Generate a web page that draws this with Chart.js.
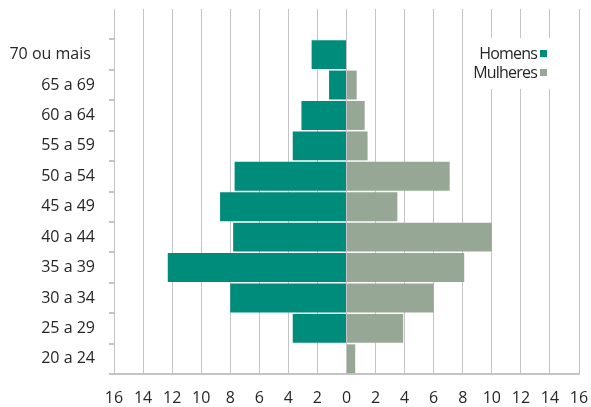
<!DOCTYPE html>
<html>
<head>
<meta charset="utf-8">
<script src="https://cdn.jsdelivr.net/npm/chart.js@4"></script>
<style>
  html, body { margin: 0; padding: 0; background: #fff; }
  #wrap { position: relative; width: 591px; height: 407px; }
  #legend {
    position: absolute; left: 476px; top: 38px; width: 78px; height: 51px;
    background: #fff; font-family: "Open Sans", sans-serif; font-size: 16px;
    line-height: 16px; color: #262626; letter-spacing: -0.8px;
  }
  #legend div { position: absolute; right: 7px; white-space: nowrap; }
  #legend span { display: inline-block; width: 7px; height: 7px; margin: 0 0 2px 3px; }
</style>
</head>
<body>
<div id="wrap">
  <canvas id="chart" width="591" height="407"></canvas>
  <div id="legend">
    <div style="top:7px">Homens<span style="background:#008c7a"></span></div>
    <div style="top:26px">Mulheres<span style="background:#97a795"></span></div>
  </div>
</div>
<script>
// Age groups, top to bottom (first entry is the empty row above the pyramid)
const ageGroups = ['', '70 ou mais ', '65 a 69', '60 a 64', '55 a 59', '50 a 54', '45 a 49',
    '40 a 44', '35 a 39', '30 a 34', '25 a 29', '20 a 24'];

// percentages, men drawn to the left
const homens = [null, 2.4, 1.2, 3.1, 3.7, 7.7, 8.7, 7.8, 12.3, 8.0, 3.7, 0];
const mulheres = [null, 0, 0.7, 1.25, 1.45, 7.1, 3.5, 10.0, 8.1, 6.0, 3.9, 0.6];

const ctx = document.getElementById('chart').getContext('2d');
const font = { family: '"Open Sans", sans-serif', size: 16 };

new Chart(ctx, {
    type: 'bar',
    data: {
        labels: ageGroups,
        datasets: [{
            label: 'Homens',
            data: homens.map(v => v === null ? null : -v),
            backgroundColor: '#008c7a',
            barPercentage: 0.95,
            categoryPercentage: 1
        }, {
            label: 'Mulheres',
            data: mulheres,
            backgroundColor: '#97a795',
            barPercentage: 0.95,
            categoryPercentage: 1
        }]
    },
    options: {
        indexAxis: 'y',
        responsive: false,
        animation: false,
        layout: { padding: { top: 9, right: 12, left: 0, bottom: 0 } },
        plugins: { legend: { display: false }, tooltip: { enabled: false } },
        scales: {
            x: {
                stacked: true,
                min: -16, max: 16,
                ticks: {
                    stepSize: 2,
                    color: '#262626',
                    font: font,
                    padding: 15,
                    callback: v => Math.abs(v)
                },
                grid: { color: '#c4c4c8', drawTicks: false },
                border: { color: '#c4c4c8', width: 2 },
                afterFit: s => {
                    s.height = 33;
                    s.paddingLeft = 0;
                    s.paddingRight = 0;
                }
            },
            y: {
                stacked: true,
                ticks: { color: '#262626', font: font, padding: 14 },
                grid: {
                    offset: true,
                    drawOnChartArea: false,
                    tickLength: 5,
                    tickColor: c => c.index === 0 ? 'rgba(0,0,0,0)' : '#c4c4c8',
                    lineWidth: 2
                },
                border: { display: false },
                afterFit: s => {
                    s.width = 114;
                    s.paddingTop = 0;
                    s.paddingBottom = 0;
                }
            }
        }
    }
});
</script>
</body>
</html>
